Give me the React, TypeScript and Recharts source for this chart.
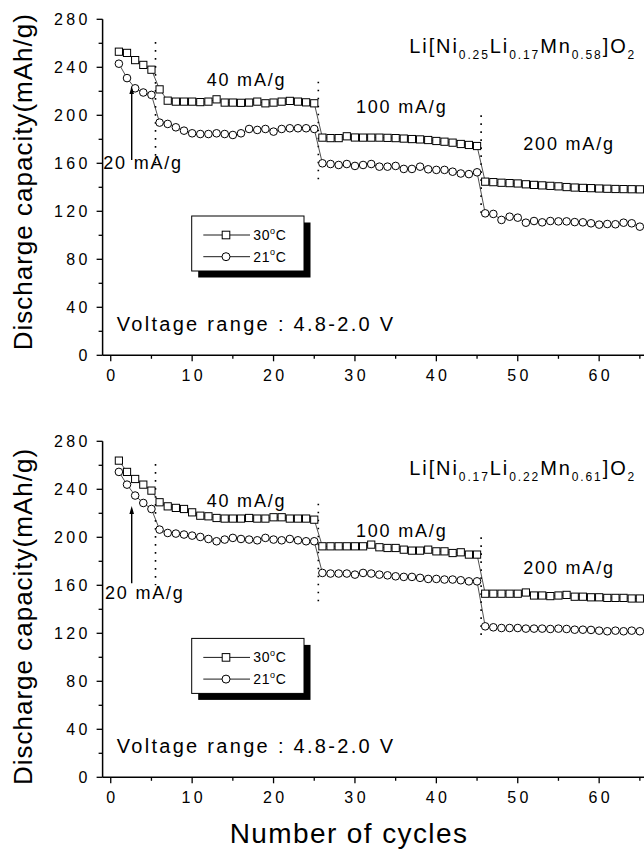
import React from 'react';
import { LineChart, Line, XAxis, YAxis, ReferenceLine } from 'recharts';

// cycle number (x)
const cycles = [
  1, 2, 3, 4, 5, 6, 7, 8, 9, 10, 11, 12, 13, 14, 15, 16, 17, 18, 19, 20,
  21, 22, 23, 24, 25, 26, 27, 28, 29, 30, 31, 32, 33, 34, 35, 36, 37, 38, 39, 40,
  41, 42, 43, 44, 45, 46, 47, 48, 49, 50, 51, 52, 53, 54, 55, 56, 57, 58, 59, 60,
  61, 62, 63, 64, 65,
];

// Li[Ni0.25Li0.17Mn0.58]O2
const top30 = [
  253, 252, 246, 242, 238,
  221.6, 212.2, 211.4, 211.4, 211.4, 211, 211.4, 213.3, 210.6, 210.6, 210.4, 210.6, 211.4, 210, 210.6, 211.4, 212, 211.4, 210.8, 210,
  181.4, 181, 181, 182.5, 181.5, 181.4, 181.4, 181.4, 181.2, 181, 180.6, 180.2, 179.9, 179.4, 178.6, 178, 177.2, 176.1, 175.3, 174.4,
  144.7, 144.3, 143.8, 143.5, 143.2, 142.5, 142, 141.6, 141.2, 140.8, 140.2, 139.8, 139.5, 139.3, 139, 138.8, 138.6, 138.5, 138.4, 138.3,
];
const top21 = [
  243, 231, 222.5, 219, 217,
  193.9, 192.8, 190, 187.2, 185, 184.4, 184.4, 185, 184.4, 183.6, 185, 188.6, 187.8, 188.6, 186.4, 188.6, 189.2, 189.2, 189.2, 188.6,
  160, 159.4, 158.6, 159.4, 157.8, 158.6, 159.4, 157.2, 157.2, 157.8, 155.3, 155.3, 157.2, 155, 154.5, 154.5, 153, 151.5, 151, 152.5,
  118.3, 117.8, 112.8, 115.5, 114.7, 110.5, 111.9, 110.8, 111.9, 111.6, 111.6, 111, 110.8, 110, 108.9, 109.4, 109.2, 110.5, 110, 107.2,
];

// Li[Ni0.17Li0.22Mn0.61]O2
const bottom30 = [
  263.9, 254.5, 248.6, 243.9, 238.9,
  229.2, 225.8, 224.5, 223.6, 220.8, 218, 217.5, 216.1, 215.6, 215.6, 215.6, 216.1, 215.6, 215.6, 216.7, 216.7, 215.6, 215.6, 215.6, 214.7,
  192.5, 192.5, 192.5, 192.5, 192.5, 192.5, 193.9, 191.7, 191.1, 191.1, 189.7, 188.9, 188.9, 189.7, 188.3, 188.3, 186.9, 187.5, 185.6, 185.6,
  153, 153, 153, 153, 153, 154, 151.5, 151.5, 151, 151.5, 152, 150.5, 150.5, 150, 150, 149.5, 149.5, 149.5, 149, 149,
];
const bottom21 = [
  254.5, 243.9, 234.8, 228.6, 223.6,
  206.4, 203.6, 203.1, 202.3, 201.4, 200.3, 198.6, 196.7, 198.1, 199.5, 198.6, 198.1, 197.5, 199.5, 198.1, 197.5, 198.6, 197.5, 196.7, 196.7,
  170.3, 169.8, 169.8, 169.8, 168.9, 170.3, 169.8, 168.9, 168.3, 167.5, 167, 167, 166.2, 165.3, 165.3, 164.8, 164.8, 164.2, 163.3, 163.3,
  125.8, 125, 124.4, 124.4, 124.4, 123.9, 123.9, 123.9, 123.6, 123.9, 123.6, 123, 123, 122.8, 122.2, 121.7, 122.2, 121.7, 122.2, 121.7,
];

const temps = ['30', '21'];
const rateLabels = ['20 mA/g', '40 mA/g', '100 mA/g', '200 mA/g'];
// rate switches (cycle) and the span of the dotted marker lines (capacity)
const rateSwitch = [5.5, 25.5, 45.5];
const switchTop = [261, 228, 200];
const switchBottom = [160, 145, 115];

const xTicks = [0, 5, 10, 15, 20, 25, 30, 35, 40, 45, 50, 55, 60, 65];
const yTicks = [0, 20, 40, 60, 80, 100, 120, 140, 160, 180, 200, 220, 240, 260, 280];

const topFormula = { main: ['Li[Ni', 'Li', 'Mn', ']O'], sub: ['0.25', '0.17', '0.58', '2'] };
const bottomFormula = { main: ['Li[Ni', 'Li', 'Mn', ']O'], sub: ['0.17', '0.22', '0.61', '2'] };

const FONT = "'Liberation Sans', Arial, Helvetica, sans-serif";
const PANEL_SHIFT = 422.4;

const SquareDot = (p: any) => {
  if (p.cx == null || p.cy == null) return null;
  return (
    <rect key={`sq-${p.index}`} x={p.cx - 3.6} y={p.cy - 3.6} width={7.2} height={7.2}
      fill="#fff" stroke="#000" strokeWidth={1} />
  );
};
const CircleDot = (p: any) => {
  if (p.cx == null || p.cy == null) return null;
  return <circle key={`ci-${p.index}`} cx={p.cx} cy={p.cy} r={3.8} fill="#fff" stroke="#000" strokeWidth={1} />;
};

const BottomTick = (p: any) => {
  const v = p.payload.value;
  const major = v % 10 === 0;
  return (
    <g>
      <line x1={p.x} y1={p.y} x2={p.x} y2={p.y + (major ? 6 : 3.5)} stroke="#000" strokeWidth={1.3} />
      {major && v <= 60 && (
        <text x={p.x + 1.7} y={p.y + 26} textAnchor="middle" fontSize={16} letterSpacing={3.4}
          fontFamily={FONT} fill="#000">{v}</text>
      )}
    </g>
  );
};
const TopTick = (p: any) => {
  const major = p.payload.value % 10 === 0;
  return <line x1={p.x} y1={p.y} x2={p.x} y2={p.y + (major ? 6 : 4)} stroke="#000" strokeWidth={1.3} />;
};
const LeftTick = (p: any) => {
  const v = p.payload.value;
  const major = v % 40 === 0;
  return (
    <g>
      <line x1={p.x} y1={p.y} x2={p.x - (major ? 6 : 4)} y2={p.y} stroke="#000" strokeWidth={1.3} />
      {major && (
        <text x={p.x - 12} y={p.y + 5.7} textAnchor="end" fontSize={16} letterSpacing={3.3}
          fontFamily={FONT} fill="#000">{v}</text>
      )}
    </g>
  );
};

function Panel({ s30, s21 }: { s30: number[]; s21: number[] }) {
  const rows = cycles.map((c, i) => ({ cycle: c, t30: s30[i], t21: s21[i] }));
  return (
    <LineChart width={648} height={400} data={rows} margin={{ top: 19.3, right: 0, bottom: 0, left: 0 }}>
      <XAxis dataKey="cycle" type="number" domain={[-1, 66]} ticks={xTicks} interval={0}
        height={44.7} tickSize={0} tickMargin={0} tickLine={false} tick={<BottomTick />}
        axisLine={{ stroke: '#000', strokeWidth: 1.5 }} />
      <XAxis xAxisId="top" orientation="top" dataKey="cycle" type="number" domain={[-1, 66]}
        ticks={xTicks} interval={0} height={0} tickSize={0} tickMargin={0} tickLine={false}
        tick={<TopTick />} axisLine={{ stroke: '#000', strokeWidth: 1.5 }} />
      <YAxis type="number" domain={[0, 280]} ticks={yTicks} interval={0} width={102.6}
        tickSize={0} tickMargin={0} tickLine={false} tick={<LeftTick />}
        axisLine={{ stroke: '#000', strokeWidth: 1.5 }} />
      {rateSwitch.map((x, i) => (
        <ReferenceLine key={`sw-${i}`} segment={[{ x, y: switchTop[i] }, { x, y: switchBottom[i] }]}
          stroke="#000" strokeWidth={1.6} strokeDasharray="1.6 6.4" />
      ))}
      <Line type="linear" dataKey="t21" name={`${temps[1]}°C`} stroke="#222" strokeWidth={0.8}
        dot={CircleDot} activeDot={false} isAnimationActive={false} />
      <Line type="linear" dataKey="t30" name={`${temps[0]}°C`} stroke="#222" strokeWidth={0.8}
        dot={SquareDot} activeDot={false} isAnimationActive={false} />
    </LineChart>
  );
}

function Formula({ x, y, parts }: { x: number; y: number; parts: { main: string[]; sub: string[] } }) {
  const spans: React.ReactNode[] = [];
  parts.main.forEach((m, i) => {
    spans.push(<tspan key={`m${i}`} fontSize={20} dy={i === 0 ? 0 : -6}>{m}</tspan>);
    spans.push(<tspan key={`s${i}`} fontSize={12} dy={6}>{parts.sub[i]}</tspan>);
  });
  return (
    <text x={x} y={y} fontFamily={FONT} letterSpacing={1.9} fill="#000">{spans}</text>
  );
}

function LegendBox({ dy }: { dy: number }) {
  const bx = 191.7, by = 216 + dy;
  return (
    <g>
      <rect x={bx + 6.5} y={by + 6.5} width={112.3} height={55} fill="#000" />
      <rect x={bx} y={by} width={112.3} height={55} fill="#fff" stroke="#000" strokeWidth={1} />
      {temps.map((t, i) => {
        const ly = by + 19 + i * 21.7;
        return (
          <g key={t}>
            <line x1={bx + 11.6} y1={ly} x2={bx + 58.3} y2={ly} stroke="#000" strokeWidth={0.9} />
            {i === 0
              ? <rect x={bx + 34.3 - 3.8} y={ly - 3.8} width={7.6} height={7.6} fill="#fff" stroke="#000" strokeWidth={1} />
              : <circle cx={bx + 34.3} cy={ly} r={4} fill="#fff" stroke="#000" strokeWidth={1} />}
            <text x={bx + 61.6} y={ly + 5} fontFamily={FONT} fontSize={14} fill="#000" letterSpacing={0.6}>
              {t}
              <tspan fontSize={9} dy={-6.5}>o</tspan>
              <tspan fontSize={14} dy={6.5}>C</tspan>
            </text>
          </g>
        );
      })}
    </g>
  );
}

function Arrow({ x, y1, y2 }: { x: number; y1: number; y2: number }) {
  return (
    <g>
      <line x1={x} y1={y1} x2={x} y2={y2 + 6} stroke="#000" strokeWidth={1.4} />
      <polygon points={`${x},${y2} ${x - 2.3},${y2 + 8} ${x + 2.3},${y2 + 8}`} fill="#000" />
    </g>
  );
}

function Overlay() {
  const txt = { fontFamily: FONT, fill: '#000' } as const;
  const rate = { ...txt, fontSize: 18, letterSpacing: 1.8 } as const;
  const b = PANEL_SHIFT;
  return (
    <svg width={644} height={851} style={{ position: 'absolute', left: 0, top: 0, pointerEvents: 'none' }}>
      {/* top panel */}
      <Formula x={409.3} y={53.3} parts={topFormula} />
      <text x={103.3} y={169.3} {...rate}>{rateLabels[0]}</text>
      <text x={206.7} y={86} {...rate}>{rateLabels[1]}</text>
      <text x={356} y={113} {...rate}>{rateLabels[2]}</text>
      <text x={523.3} y={150} {...rate}>{rateLabels[3]}</text>
      <Arrow x={131.7} y1={160} y2={86} />
      <LegendBox dy={0} />
      <text x={116.7} y={331} {...txt} fontSize={20} letterSpacing={2.3}>Voltage range : 4.8-2.0 V</text>
      <text x={31.7} y={181.7} {...txt} fontSize={26} letterSpacing={1} textAnchor="middle"
        transform="rotate(-90 31.7 181.7)">Discharge capacity(mAh/g)</text>

      {/* bottom panel */}
      <Formula x={409.3} y={475} parts={bottomFormula} />
      <text x={105} y={599} {...rate}>{rateLabels[0]}</text>
      <text x={206.7} y={507.3} {...rate}>{rateLabels[1]}</text>
      <text x={356} y={536.7} {...rate}>{rateLabels[2]}</text>
      <text x={523.3} y={574} {...rate}>{rateLabels[3]}</text>
      <Arrow x={131.7} y1={583.3} y2={506} />
      <LegendBox dy={b} />
      <text x={116.7} y={753.3} {...txt} fontSize={20} letterSpacing={2.3}>Voltage range : 4.8-2.0 V</text>
      <text x={31.7} y={616.5} {...txt} fontSize={26} letterSpacing={1} textAnchor="middle"
        transform="rotate(-90 31.7 616.5)">Discharge capacity(mAh/g)</text>

      <text x={349} y={843.3} {...txt} fontSize={28} letterSpacing={1.4} textAnchor="middle">Number of cycles</text>
    </svg>
  );
}

export default function App() {
  return (
    <div style={{ position: 'absolute', left: 0, top: 0, width: 644, height: 851, overflow: 'hidden', background: '#fff', fontFamily: FONT }}>
      <div style={{ position: 'absolute', left: 0, top: 0 }}>
        <Panel s30={top30} s21={top21} />
      </div>
      <div style={{ position: 'absolute', left: 0, top: PANEL_SHIFT }}>
        <Panel s30={bottom30} s21={bottom21} />
      </div>
      <Overlay />
    </div>
  );
}
